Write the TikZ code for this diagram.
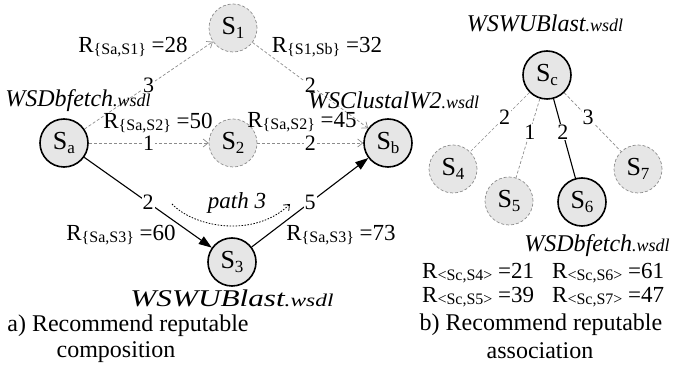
\documentclass[tikz,border=0pt]{standalone}
\usepackage{fontspec}
\setmainfont{Liberation Serif}
\usepackage{graphicx}
\usetikzlibrary{arrows.meta}
\definecolor{nodegray}{RGB}{230,230,230}
\definecolor{edgegray}{RGB}{140,140,140}
\newcommand\ssub[1]{\raisebox{-4pt}{\fontsize{17}{17}\selectfont #1}}
\newcommand\rsub[1]{\raisebox{-1.5pt}{\fontsize{16}{16}\selectfont #1}}
\newcommand\wsdlext{{\fontsize{18}{18}\selectfont .wsdl}}
\begin{document}
\begin{tikzpicture}[x=1pt,y=-1pt,
  every node/.style={inner sep=0pt},
  svc/.style={circle, minimum size=48pt, fill=nodegray, font=\fontsize{26}{28}\selectfont},
  solidsvc/.style={svc, draw=black, line width=1.6pt},
  dashsvc/.style={svc, draw=edgegray, dash pattern=on 3pt off 2pt, line width=0.7pt},
  dashedge/.style={draw=edgegray, dash pattern=on 3pt off 2pt, line width=0.7pt},
  solidedge/.style={draw=black, line width=1.1pt},
  openhead/.style={-{Straight Barb[length=5pt,width=8pt]}},
  fillhead/.style={-{Triangle[length=13pt,width=9pt]}},
  num/.style={fill=white, inner sep=1pt, font=\fontsize{22}{22}\selectfont},
  lab/.style={font=\fontsize{23}{26}\selectfont},
  itlab/.style={font=\fontsize{24}{26}\selectfont\itshape},
  captxt/.style={font=\fontsize{24}{26}\selectfont},
]
\useasboundingbox (0,0) rectangle (673,371);

% left panel nodes
\node[dashsvc]  (S1) at (233,28)  {S\ssub{1}};
\node[solidsvc] (Sa) at (64,143)  {S\ssub{a}};
\node[dashsvc]  (S2) at (233,143) {S\ssub{2}};
\node[solidsvc] (Sb) at (388,143) {S\ssub{b}};
\node[solidsvc] (S3) at (232,262) {S\ssub{3}};

% left panel edges
\draw[dashedge, openhead] (Sa) -- node[num] (n3) {3} (S1);
\draw[dashedge, openhead] (S1) -- node[num] (n2a) {2} (Sb);
\draw[dashedge, openhead] (Sa) -- node[num] (n1) {1} (S2);
\draw[dashedge, openhead] (S2) -- node[num] (n2b) {2} (Sb);
\draw[solidedge, fillhead] (Sa) -- node[num] (n2c) {2} (S3);
\draw[solidedge, fillhead] (S3) -- node[num] (n5) {5} (Sb);

% path 3
\coordinate (p3s) at (172,204);
\coordinate (p3e) at (290,204);
\draw[black, line width=0.8pt, dash pattern=on 1.5pt off 1.5pt, -{Straight Barb[length=5pt,width=8pt]}]
  (p3s) .. controls (195,228) and (255,238) .. (p3e);
\node[font=\fontsize{23}{26}\selectfont\itshape] (path3) at (237,203) {path 3};

% left panel labels
\node[lab] (r1) at (133,47)  {R\rsub{\{Sa,S1\}} =28};
\node[lab] (r2) at (327,47)  {R\rsub{\{S1,Sb\}} =32};
\node[lab] (r3) at (158,123) {R\rsub{\{Sa,S2\}} =50};
\node[lab] (r4) at (302,122) {R\rsub{\{Sa,S2\}} =45};
\node[lab] (r5) at (121,235) {R\rsub{\{Sa,S3\}} =60};
\node[lab] (r6) at (341,235) {R\rsub{\{Sa,S3\}} =73};

\node[itlab] (wa) at (78,101) {WSDbfetch\wsdlext};
\node[itlab, anchor=west] (wb) at (308,100) {WSClustalW2\wsdlext};
\node[itlab] (w3) at (232,298) {\scalebox{1.3}[1]{WSWUBlast\wsdlext}};

\node[captxt] (capa1) at (128,326) {a) Recommend reputable};
\node[captxt] (capa2) at (116,352) {composition};

% right panel nodes
\node[solidsvc] (Sc) at (547,75)  {S\ssub{c}};
\node[dashsvc]  (S4) at (453,169) {S\ssub{4}};
\node[dashsvc]  (S5) at (509,201) {S\ssub{5}};
\node[solidsvc] (S6) at (582,202) {S\ssub{6}};
\node[dashsvc]  (S7) at (638,169) {S\ssub{7}};

\draw[dashedge] (Sc) -- node[num, pos=0.42] (m2) {2} (S4);
\draw[dashedge] (Sc) -- node[num, pos=0.42] (m1) {1} (S5);
\draw[solidedge] (Sc) -- node[num, pos=0.42] (m2b) {2} (S6);
\draw[dashedge] (Sc) -- node[num, pos=0.42] (m3) {3} (S7);

\node[itlab] (wc) at (545,23) {WSWUBlast\wsdlext};
\node[itlab] (w6) at (597,246) {WSDbfetch\wsdlext};

\node[lab, anchor=west] (q1) at (422,273) {R\rsub{<Sc,S4>} =21};
\node[lab, anchor=west] (q2) at (552,273) {R\rsub{<Sc,S6>} =61};
\node[lab, anchor=west] (q3) at (422,297) {R\rsub{<Sc,S5>} =39};
\node[lab, anchor=west] (q4) at (552,297) {R\rsub{<Sc,S7>} =47};

\node[captxt] (capb1) at (541,325) {b) Recommend reputable};
\node[captxt] (capb2) at (540,351) {association};
\end{tikzpicture}
\end{document}
